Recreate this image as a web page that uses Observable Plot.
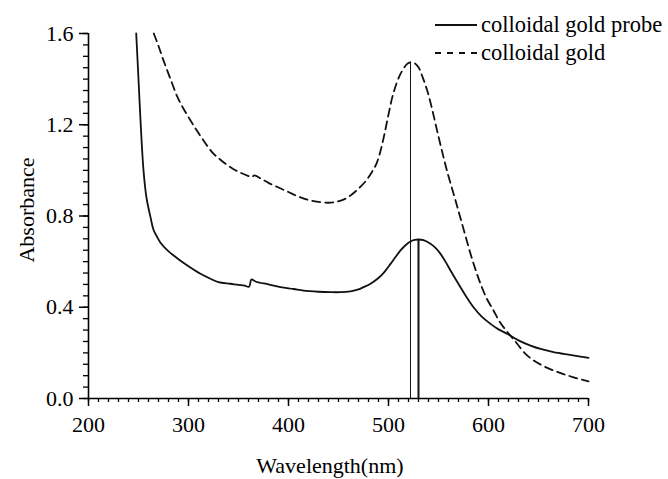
<!DOCTYPE html>
<html>
<head>
<meta charset="utf-8">
<script src="https://cdn.jsdelivr.net/npm/d3@7"></script>
<script src="https://cdn.jsdelivr.net/npm/@observablehq/plot@0.6"></script>
<style>
  html, body { margin: 0; padding: 0; background: #fff; }
  #chart svg { display: block; }
</style>
</head>
<body>
<div id="chart"></div>
<script>
// ---- data ----
const seriesNames = ["colloidal gold probe", "colloidal gold"];

const probeWavelength = [247.7, 250, 252, 255, 258, 262, 265, 269, 272, 279, 289, 300, 312, 322, 330, 342, 350, 356, 360.5, 363, 367, 380, 392, 405, 415, 430, 442, 452, 462, 470, 475, 482, 489, 495, 502, 507, 512, 517, 522, 526, 530, 535, 542, 547, 552, 557, 562, 567, 572, 578, 585, 593, 602, 610, 619, 630, 642, 653, 665, 680, 692, 700];
const probeAbsorbance = [1.60, 1.40, 1.22, 1.00, 0.88, 0.795, 0.74, 0.705, 0.683, 0.649, 0.614, 0.58, 0.547, 0.525, 0.51, 0.503, 0.498, 0.495, 0.490, 0.522, 0.513, 0.50, 0.488, 0.48, 0.473, 0.468, 0.466, 0.466, 0.47, 0.478, 0.488, 0.503, 0.525, 0.55, 0.59, 0.62, 0.649, 0.672, 0.688, 0.695, 0.697, 0.694, 0.678, 0.66, 0.634, 0.60, 0.561, 0.524, 0.488, 0.445, 0.40, 0.36, 0.327, 0.303, 0.283, 0.255, 0.232, 0.216, 0.203, 0.192, 0.184, 0.178];

const goldWavelength = [265.3, 270, 275, 282, 289, 295, 302, 309, 315, 320, 325, 331, 337, 345, 352, 360, 363, 366, 372, 380, 390, 400, 410, 420, 430, 440, 448, 455, 462, 470, 477, 483, 488, 492, 496, 500, 505, 512, 518.7, 522, 526, 530, 534, 538.7, 543, 547, 551, 555, 559, 563.7, 568, 572, 577, 582, 587, 592, 598, 605, 610, 615, 622, 628.7, 636, 645, 655, 665, 675, 685, 700];
const goldAbsorbance = [1.60, 1.545, 1.482, 1.40, 1.321, 1.27, 1.219, 1.17, 1.131, 1.10, 1.073, 1.05, 1.029, 1.005, 0.99, 0.975, 0.97, 0.978, 0.965, 0.945, 0.925, 0.905, 0.885, 0.87, 0.862, 0.858, 0.862, 0.872, 0.89, 0.92, 0.952, 0.99, 1.03, 1.085, 1.16, 1.245, 1.34, 1.423, 1.467, 1.474, 1.47, 1.452, 1.41, 1.35, 1.28, 1.204, 1.13, 1.058, 0.99, 0.918, 0.853, 0.79, 0.712, 0.634, 0.565, 0.503, 0.44, 0.386, 0.345, 0.313, 0.275, 0.24, 0.20, 0.167, 0.142, 0.123, 0.107, 0.093, 0.075];

// peak marker lines (thin: colloidal gold, thick: probe)
const peakWavelengths = [522, 530];
const peakAbsorbances = [1.474, 0.697];
const peakWidths = [1, 2];

const xTickLabels = [200, 300, 400, 500, 600, 700];
const yTickLabels = [0.0, 0.4, 0.8, 1.2, 1.6];
const xMinorTicks = d3.range(200, 701, 10);
const yMinorTicks = d3.range(0, 1.6001, 0.05);

// ---- tables ----
const probe = probeWavelength.map((w, i) => ({w, a: probeAbsorbance[i]}));
const gold = goldWavelength.map((w, i) => ({w, a: goldAbsorbance[i]}));
const peaks = peakWavelengths.map((w, i) => ({w, a: peakAbsorbances[i], sw: peakWidths[i]}));

const FONT = "'Liberation Serif', 'Times New Roman', serif";

const chart = Plot.plot({
  width: 668,
  height: 479,
  marginLeft: 88,
  marginRight: 80,
  marginTop: 33,
  marginBottom: 81,
  x: {domain: [200, 700]},
  y: {domain: [0, 1.6]},
  style: {fontFamily: FONT, fontSize: "22px", background: "#fff", color: "#000", overflow: "visible"},
  marks: [
    Plot.axisX({ticks: xMinorTicks, tickSize: 4, tickFormat: () => "", label: null, strokeWidth: 1.3}),
    Plot.axisX({ticks: xTickLabels, tickSize: 8, tickPadding: 10, tickFormat: d => String(d), label: null, strokeWidth: 1.5, fontSize: 22}),
    Plot.axisY({ticks: yMinorTicks, tickSize: 5, tickFormat: () => "", label: null, strokeWidth: 1.3}),
    Plot.axisY({ticks: yTickLabels, tickSize: 9, tickPadding: 6, tickFormat: d3.format(".1f"), label: null, strokeWidth: 1.5, fontSize: 22}),
    Plot.ruleY([0], {stroke: "#000", strokeWidth: 1.6}),
    Plot.ruleX([200], {stroke: "#000", strokeWidth: 1.6}),
    Plot.ruleX(peaks, {x: "w", y1: 0, y2: "a", stroke: "#111", strokeWidth: "sw"}),
    Plot.line(gold, {x: "w", y: "a", stroke: "#111", strokeWidth: 1.8, strokeDasharray: "8,5", curve: "catmull-rom"}),
    Plot.line(probe, {x: "w", y: "a", stroke: "#111", strokeWidth: 1.8, curve: "catmull-rom"})
  ]
});

document.getElementById("chart").appendChild(chart);

// ---- titles and legend (layout) ----
const svg = d3.select(chart);

svg.append("text")
  .attr("transform", "translate(34,210) rotate(-90)")
  .attr("text-anchor", "middle")
  .attr("font-family", FONT)
  .attr("font-size", 22)
  .attr("fill", "#000")
  .text("Absorbance");

svg.append("text")
  .attr("x", 330)
  .attr("y", 473)
  .attr("text-anchor", "middle")
  .attr("font-family", FONT)
  .attr("font-size", 22)
  .attr("fill", "#000")
  .text("Wavelength(nm)");

const legend = svg.append("g");
const dashes = [null, "6,6"];
seriesNames.forEach((name, i) => {
  const y = 25 + i * 28;
  legend.append("line")
    .attr("x1", 435).attr("x2", 477)
    .attr("y1", y).attr("y2", y)
    .attr("stroke", "#111").attr("stroke-width", 1.8)
    .attr("stroke-dasharray", dashes[i]);
  legend.append("text")
    .attr("x", 481).attr("y", y + 7)
    .attr("text-anchor", "start")
    .attr("font-family", FONT)
    .attr("font-size", 22.5)
    .attr("fill", "#000")
    .text(name);
});
</script>
</body>
</html>
